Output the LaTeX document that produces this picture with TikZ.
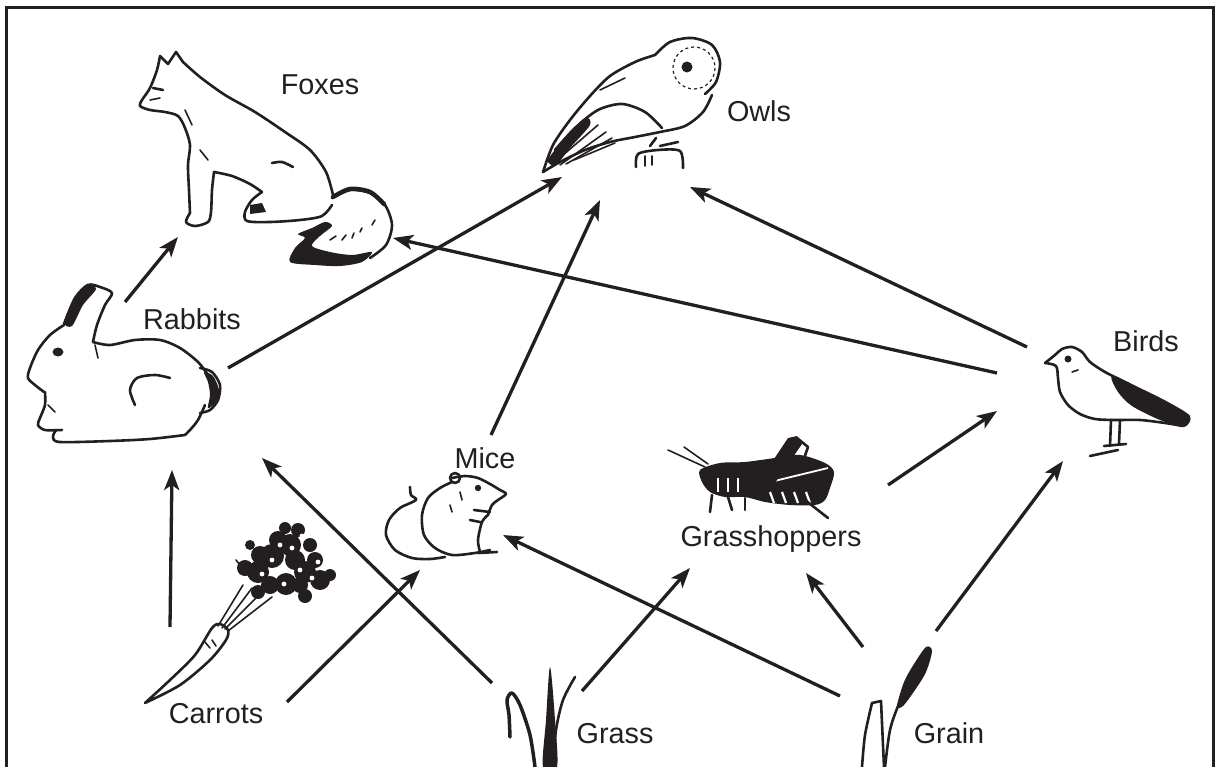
\documentclass[tikz,border=0pt]{standalone}
\usepackage{fontspec}
\setmainfont{Liberation Sans}
\usetikzlibrary{arrows.meta}
\definecolor{ink}{RGB}{35,31,32}
\tikzset{
  arr/.style={draw=ink, line width=3.3pt, -{Stealth[length=20pt,width=15pt,inset=5pt]}},
  lbl/.style={anchor=base, inner sep=0pt, text=ink, font=\fontsize{28.8}{34}\selectfont},
  pen/.style={draw=ink, line width=2.6pt, line join=round, line cap=round},
  thin pen/.style={draw=ink, line width=1.6pt, line join=round, line cap=round},
  frame/.style={draw=ink, line width=3pt}
}
\begin{document}
\begin{tikzpicture}[x=1pt,y=-1pt]
\useasboundingbox (0,0) rectangle (1217,767);
\draw[frame] (6.5,767) -- (6.5,7.5) -- (1213.5,7.5) -- (1213.5,767);

% ---------- Fox ----------
\draw[pen] plot[smooth] coordinates {(160,56) (157,70) (150,88) (142,100) (140,106) (150,110) (165,112) (178,116) (185,128) (190,145) (188,165) (189,190) (190,213)};
\draw[pen] (160,56) -- (168,64) -- (176,52) -- (183,62);
\draw[pen] plot[smooth] coordinates {(190,213) (186,222) (195,226) (208,222) (211,212) (212,190) (214,172)};
\draw[pen] (153,88) -- (163,90);
\draw[thin pen] (150,100) -- (160,98);
\draw[pen] plot[smooth] coordinates {(183,62) (200,77) (225,95) (255,112) (285,132) (310,150) (326,172) (333,195)};
\draw[pen] plot[smooth] coordinates {(214,172) (232,176) (250,184) (262,192)};
\draw[pen] plot[smooth] coordinates {(272,163) (282,162) (293,167)};
\draw[pen] plot[smooth] coordinates {(262,192) (252,200) (245,212) (247,221) (270,222) (300,220) (322,216) (332,205)};
\fill[ink] (250,205) -- (262,203) -- (266,212) -- (250,214) -- cycle;
% tail
\draw[pen] plot[smooth] coordinates {(332,198) (350,190) (370,193) (385,205) (392,225) (386,245) (370,258)};
\draw[ink, line width=4.5pt, line cap=round] plot[smooth] coordinates {(333,197) (350,189) (370,192) (384,204)};
\fill[ink] plot[smooth cycle] coordinates {(290,262) (295,248) (305,238) (298,234) (312,228) (325,222) (332,226) (320,236) (312,246) (330,252) (352,255) (372,252) (362,262) (340,266) (315,265)};
\draw[thin pen] (330,240) -- (336,236);
\draw[thin pen] (342,240) -- (346,235);
\draw[thin pen] (352,238) -- (354,233);
\draw[thin pen] (360,232) -- (362,228);
\draw[thin pen] (372,225) -- (375,220);
\draw[thin pen] (200,150) -- (208,160);
\draw[thin pen] (185,110) -- (192,125);

% ---------- Owl ----------
\draw[pen] plot[smooth] coordinates {(655,55) (670,42) (692,38) (712,45) (720,62) (716,82) (705,94)};
\draw[ink, line width=1.2pt, dashed] (694,68) circle (21);
\fill[ink] (687,67) circle (5.5);
\draw[pen] plot[smooth] coordinates {(655,55) (635,62) (610,76) (590,96) (570,120) (553,145) (543,172)};
\draw[pen] plot[smooth] coordinates {(543,172) (560,162) (585,150) (610,142) (635,137) (660,132) (685,126) (703,112) (712,95)};
\draw[pen] plot[smooth] coordinates {(555,150) (575,128) (598,110) (622,104) (645,112) (662,128)};
\draw[thin pen] (555,162) -- (598,125);
\draw[thin pen] (560,165) -- (606,132);
\draw[thin pen] (566,164) -- (612,138);
\draw[thin pen] (574,160) -- (615,143);
\fill[ink] plot[smooth cycle] coordinates {(548,160) (565,138) (585,118) (590,125) (570,148) (556,165)};
\draw[thin pen] (600,90) -- (625,78);
\draw[pen] (650,146) -- (656,138);
\draw[pen] (660,146) -- (678,142);
\draw[pen] plot[smooth] coordinates {(636,167) (638,154) (658,150) (680,151) (683,168)};
\draw[thin pen] (645,156) -- (645,166);
\draw[thin pen] (652,156) -- (652,165);

% ---------- Rabbit ----------
\fill[ink] plot[smooth cycle] coordinates {(64,322) (75,298) (87,284) (96,289) (83,305) (72,326)};
\draw[pen] plot[smooth] coordinates {(64,324) (75,298) (88,285) (100,287) (112,293) (105,305) (97,325) (93,342)};
\draw[pen] plot[smooth] coordinates {(64,325) (50,335) (38,350) (30,368) (28,378) (35,385) (44,392)};
\fill[ink] (58,352) ellipse (5.5 and 4.5);
\draw[pen] plot[smooth] coordinates {(93,342) (110,345) (135,340) (160,340) (180,348) (198,362) (208,375)};
\draw[pen] plot[smooth] coordinates {(200,368) (212,372) (220,385) (218,400) (210,410) (200,413)};
\fill[ink] plot[smooth cycle] coordinates {(204,372) (213,376) (219,390) (216,402) (208,408) (210,395) (208,382)};
\draw[pen] plot[smooth] coordinates {(205,405) (198,420) (190,430) (185,435)};
\draw[pen] plot[smooth] coordinates {(185,435) (150,439) (110,441) (60,442) (53,437) (56,430)};
\draw[pen] plot[smooth] coordinates {(45,392) (45,405) (40,418) (38,425) (45,430) (62,430)};
\draw[pen] plot[smooth] coordinates {(135,405) (130,390) (137,378) (155,375) (170,378)};
\draw[thin pen] (48,405) -- (55,412);
\draw[thin pen] (95,345) -- (98,358);

% ---------- Bird ----------
\fill[ink] plot[smooth cycle] coordinates {(1112,376) (1140,388) (1168,402) (1190,416) (1184,427) (1160,420) (1132,406) (1118,392)};
\draw[pen] plot[smooth] coordinates {(1045,363) (1055,355) (1062,349) (1072,347) (1082,352) (1090,362) (1105,372) (1125,382) (1150,395) (1170,405) (1188,416)};
\draw[pen] plot[smooth] coordinates {(1045,363) (1056,366) (1058,378) (1060,392) (1068,405) (1080,414) (1095,419) (1115,420) (1140,420) (1165,423) (1183,426)};
\fill[ink] (1068,359) circle (3.5);
\draw[thin pen] (1072,372) -- (1078,370);
\draw[pen] (1111,420) -- (1110,446);
\draw[pen] (1120,420) -- (1119,444);
\draw[pen] (1090,456) -- (1118,450);
\draw[pen] (1104,446) -- (1126,444);

% ---------- Mouse ----------
\draw[pen] plot[smooth] coordinates {(452,482) (440,488) (428,498) (422,515) (424,535) (435,548) (452,555) (475,553) (490,550)};
\draw[pen] plot[smooth] coordinates {(452,478) (465,476) (478,478) (490,484) (500,490) (506,494) (498,500) (492,505) (488,515)};
\draw[pen] plot[smooth] coordinates {(488,515) (482,522) (478,540) (480,552)};
\draw[pen] (455,478) circle (5);
\fill[ink] (478,488) circle (3.2);
\draw[pen] (478,553) -- (497,552);
\draw[pen] (474,510) -- (490,512);
\draw[pen] (470,520) -- (480,522);
\draw[pen] plot[smooth] coordinates {(410,487) (411,495) (416,500) (400,508) (389,520) (386,535) (395,550) (412,558) (430,559) (445,557)};
\draw[thin pen] (460,492) -- (462,500);
\draw[thin pen] (450,505) -- (452,512);

% ---------- Grasshopper ----------
\fill[ink] plot[smooth cycle] coordinates {(700,470) (720,463) (745,462) (775,458) (800,455) (825,463) (834,472) (830,488) (825,500) (815,505) (790,505) (765,502) (745,497) (725,497) (710,492) (702,482)};
\draw[white, line width=1.8pt] (762,484) -- (828,468);
\foreach \xx in {770,782,794,806} { \draw[white, line width=2.2pt] (\xx,492) -- (\xx+4,503); }
\foreach \xx in {718,728,738} { \draw[white, line width=2pt] (\xx,478) -- (\xx,492); }
\fill[ink] (752,492) -- (788,438) -- (797,436) -- (802,444) -- (770,490) -- cycle;
\draw[pen] (797,438) -- (808,447) -- (800,470);
\draw[pen] (805,500) -- (828,518);
\draw[pen] (712,495) -- (710,512);
\draw[pen] (728,497) -- (732,510);
\draw[pen] (745,498) -- (745,510);
\draw[thin pen] (705,467) -- (668,450);
\draw[thin pen] (708,464) -- (684,447);

% ---------- Carrot ----------
\draw[pen] plot[smooth] coordinates {(145,703) (170,680) (195,655) (212,628) (220,624) (228,630) (226,640) (210,660) (180,685) (145,703)};
\draw[thin pen] (205,642) -- (210,648);
\draw[thin pen] (212,640) -- (216,646);
\draw[thin pen] (222,628) -- (252,588);
\draw[thin pen] (225,629) -- (262,592);
\draw[thin pen] (228,631) -- (272,597);
\draw[thin pen] (218,626) -- (243,585);
\draw[thin pen] (236,560) -- (248,575);
\foreach \p/\r in {(245,568)/8, (258,572)/11, (260,555)/9, (272,556)/12, (278,540)/9, (290,545)/11, (298,530)/7, (295,560)/10, (305,572)/11, (315,560)/8, (320,580)/10, (330,575)/6, (286,584)/11, (270,585)/9, (258,592)/7, (305,596)/7, (250,545)/5, (310,545)/7, (285,528)/6, (300,585)/8} { \fill[ink] \p circle (\r); }
\foreach \p in {(272,560), (292,548), (300,570), (284,584), (262,574), (312,578), (280,545), (302,536), (318,562)} { \fill[white] \p circle (2.4); }

% ---------- Grass ----------
\draw[pen, line width=3.5pt] plot[smooth] coordinates {(535,767) (530,735) (520,705) (512,693) (507,700) (509,715) (510,737)};
\fill[ink] plot[smooth cycle] coordinates {(543,767) (546,720) (550,667) (555,720) (557,767)};
\draw[pen] plot[smooth] coordinates {(553,767) (556,730) (563,700) (575,677)};

% ---------- Grain ----------
\draw[pen] plot[smooth] coordinates {(862,767) (865,735) (872,703)};
\draw[pen] (872,703) -- (881,701) -- (884,767);
\draw[pen] plot[smooth] coordinates {(885,767) (890,730) (898,706) (905,690)};
\fill[ink] plot[smooth cycle] coordinates {(897,706) (904,682) (914,664) (926,647) (932,651) (926,672) (915,690) (903,706)};

% ---------- Labels ----------
\node[lbl] (foxes) at (320,95) {Foxes};
\node[lbl] (owls) at (759,122) {Owls};
\node[lbl] (rabbits) at (192,329) {Rabbits};
\node[lbl] (birds) at (1146,351) {Birds};
\node[lbl] (mice) at (485,468) {Mice};
\node[lbl] (grasshoppers) at (771,546) {Grasshoppers};
\node[lbl] (carrots) at (216,723) {Carrots};
\node[lbl] (grass) at (615,743) {Grass};
\node[lbl] (grain) at (949,743) {Grain};

% ---------- Connector end points ----------
\coordinate (fox-a) at (178,237);
\coordinate (fox-b) at (393,238);
\coordinate (owl-a) at (562,177);
\coordinate (owl-b) at (600,200);
\coordinate (owl-c) at (690,187);
\coordinate (rab-o1) at (125,302);
\coordinate (rab-o2) at (228,368);
\coordinate (rab-i1) at (172,470);
\coordinate (rab-i2) at (262,458);
\coordinate (mice-o) at (491,435);
\coordinate (mice-i1) at (420,570);
\coordinate (mice-i2) at (503,535);
\coordinate (gh-o) at (888,485);
\coordinate (gh-i1) at (690,568);
\coordinate (gh-i2) at (806,573);
\coordinate (bird-o1) at (1027,347);
\coordinate (bird-o2) at (997,373);
\coordinate (bird-i1) at (997,411);
\coordinate (bird-i2) at (1063,461);
\coordinate (car-o1) at (170,627);
\coordinate (car-o2) at (287,702);
\coordinate (gr-o1) at (492,683);
\coordinate (gr-o2) at (582,691);
\coordinate (gn-o1) at (840,696);
\coordinate (gn-o2) at (863,647);
\coordinate (gn-o3) at (936,631);

% ---------- Connectors ----------
\draw[arr] (rab-o1) -- (fox-a);
\draw[arr] (bird-o2) -- (fox-b);
\draw[arr] (rab-o2) -- (owl-a);
\draw[arr] (mice-o) -- (owl-b);
\draw[arr] (bird-o1) -- (owl-c);
\draw[arr] (car-o1) -- (rab-i1);
\draw[arr] (gr-o1) -- (rab-i2);
\draw[arr] (car-o2) -- (mice-i1);
\draw[arr] (gn-o1) -- (mice-i2);
\draw[arr] (gr-o2) -- (gh-i1);
\draw[arr] (gn-o2) -- (gh-i2);
\draw[arr] (gh-o) -- (bird-i1);
\draw[arr] (gn-o3) -- (bird-i2);
\end{tikzpicture}
\end{document}
